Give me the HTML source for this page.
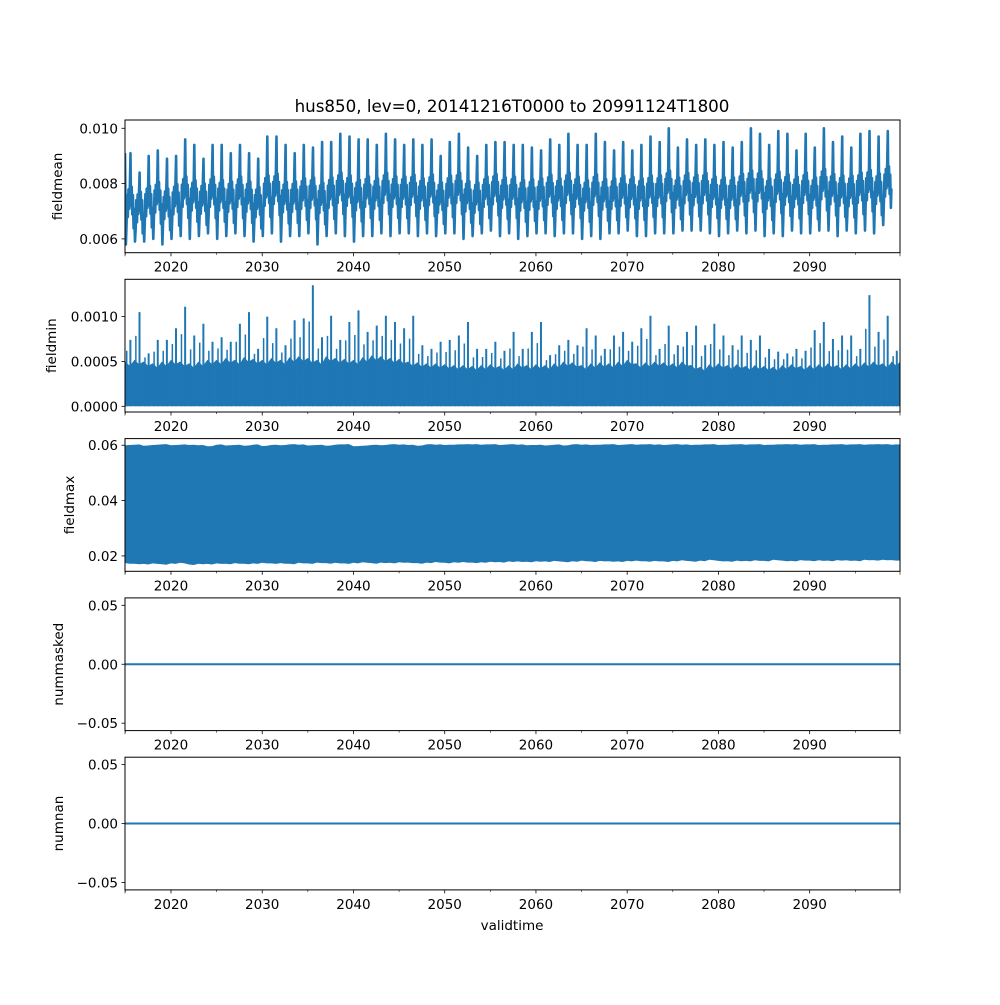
<!DOCTYPE html>
<html><head><meta charset="utf-8"><style>
body{margin:0;background:#fff}
svg text{font-family:"DejaVu Sans","Liberation Sans",sans-serif;fill:#000}
</style></head><body>
<svg id="chart" xmlns="http://www.w3.org/2000/svg" width="1000" height="1000" viewBox="0 0 1000 1000">
<rect width="1000" height="1000" fill="#fff"/>
<text x="512" y="112" font-size="16.7" text-anchor="middle">hus850, lev=0, 20141216T0000 to 20991124T1800</text>
<text x="512" y="930" font-size="13.5" text-anchor="middle">validtime</text>
<g id="plots"></g>
</svg>
<script>
const years = [];
for (let y = 2015; y <= 2099; y++) years.push(y);
const xTickLabels = ["2020","2030","2040","2050","2060","2070","2080","2090"];
const xTickValues = [2020,2030,2040,2050,2060,2070,2080,2090];
const xMinorValues = [2015,2025,2035,2045,2055,2065,2075,2085,2095];

const meanPeaks = [0.0091,0.0084,0.0090,0.0092,0.0089,0.0090,0.0096,0.0094,0.0089,0.0094,0.0094,0.0091,0.0094,0.0091,0.0089,0.0097,0.0097,0.0094,0.0091,0.0094,0.0093,0.0095,0.0095,0.0098,0.0097,0.0096,0.0096,0.0094,0.0098,0.0096,0.0094,0.0096,0.0094,0.0096,0.0090,0.0095,0.0098,0.0093,0.0090,0.0094,0.0095,0.0095,0.0094,
0.0094,0.0093,0.0092,0.0096,0.0094,0.0098,0.0094,0.0094,0.0098,0.0095,0.0092,0.0095,0.0092,0.0094,0.0097,0.0095,0.0100,0.0093,0.0096,0.0094,0.0096,0.0094,0.0095,0.0093,0.0095,0.0100,0.0098,0.0094,0.0099,0.0098,0.0092,0.0098,0.0093,0.0100,0.0095,0.0097,0.0093,0.0098,0.0099,0.0097,0.0099,0.0100];
const meanTroughs = [0.0058,0.0059,0.0059,0.0060,0.0058,0.0060,0.0061,0.0060,0.0061,0.0062,0.0060,0.0061,0.0062,0.0061,0.0059,0.0061,0.0062,0.0059,0.0061,0.0061,0.0062,0.0058,0.0061,0.0062,0.0061,0.0059,0.0061,0.0061,0.0062,0.0061,0.0062,0.0062,0.0061,0.0062,0.0061,0.0062,0.0062,0.0060,0.0061,0.0062,0.0063,0.0061,0.0062,
0.0060,0.0061,0.0062,0.0062,0.0061,0.0062,0.0062,0.0060,0.0061,0.0060,0.0062,0.0062,0.0063,0.0061,0.0061,0.0062,0.0062,0.0062,0.0063,0.0063,0.0063,0.0062,0.0061,0.0062,0.0063,0.0062,0.0063,0.0061,0.0062,0.0061,0.0063,0.0062,0.0062,0.0063,0.0063,0.0061,0.0063,0.0062,0.0063,0.0062,0.0065];

const minSpikes = [0.00074,0.00105,0.00059,0.00074,0.00074,0.00087,0.00111,0.00079,0.00092,0.00072,0.00077,0.00072,0.00092,0.00105,0.00064,0.00100,0.00087,0.00068,0.00096,0.00098,0.00135,0.00077,0.00101,0.00074,0.00094,0.00107,0.00083,0.00090,0.00101,0.00094,0.00087,0.00101,0.00068,0.00064,0.00072,0.00074,0.00079,0.00094,0.00064,0.00064,0.00072,0.00062,0.00083,
0.00064,0.00083,0.00094,0.00057,0.00068,0.00074,0.00068,0.00087,0.00079,0.00064,0.00079,0.00083,0.00072,0.00087,0.00101,0.00064,0.00090,0.00068,0.00083,0.00090,0.00068,0.00092,0.00079,0.00068,0.00079,0.00074,0.00079,0.00064,0.00061,0.00059,0.00064,0.00062,0.00085,0.00094,0.00075,0.00079,0.00079,0.00064,0.00124,0.00083,0.00101,0.00062];
const minBase = [0.00050,0.00052,0.00050,0.00048,0.00050,0.00052,0.00050,0.00048,0.00050,0.00052,0.00052,0.00054,0.00052,0.00055,0.00053,0.00052,0.00054,0.00052,0.00055,0.00056,0.00054,0.00052,0.00056,0.00054,0.00053,0.00052,0.00055,0.00057,0.00056,0.00054,0.00053,0.00050,0.00049,0.00048,0.00048,0.00047,0.00046,0.00046,0.00045,0.00046,0.00047,0.00045,0.00046,
0.00048,0.00046,0.00047,0.00046,0.00048,0.00050,0.00049,0.00046,0.00048,0.00049,0.00048,0.00050,0.00052,0.00048,0.00049,0.00050,0.00049,0.00048,0.00050,0.00046,0.00044,0.00047,0.00048,0.00046,0.00047,0.00045,0.00046,0.00045,0.00044,0.00046,0.00047,0.00045,0.00046,0.00047,0.00048,0.00046,0.00047,0.00048,0.00049,0.00050,0.00048,0.00050];

const maxUpper = [0.0600,0.0602,0.0598,0.0601,0.0603,0.0600,0.0602,0.0601,0.0600,0.0596,0.0602,0.0599,0.0601,0.0598,0.0602,0.0597,0.0601,0.0600,0.0603,0.0602,0.0599,0.0601,0.0598,0.0602,0.0603,0.0596,0.0598,0.0601,0.0600,0.0603,0.0602,0.0601,0.0598,0.0603,0.0602,0.0601,0.0602,0.0603,0.0603,0.0602,0.0603,0.0601,0.0603,
0.0602,0.0600,0.0601,0.0599,0.0602,0.0599,0.0603,0.0602,0.0601,0.0602,0.0603,0.0601,0.0603,0.0602,0.0603,0.0602,0.0601,0.0603,0.0602,0.0601,0.0602,0.0603,0.0601,0.0602,0.0603,0.0602,0.0603,0.0601,0.0602,0.0603,0.0603,0.0602,0.0603,0.0601,0.0602,0.0603,0.0602,0.0603,0.0602,0.0603,0.0603,0.0602];
const maxLower = [0.0174,0.0172,0.0171,0.0173,0.0170,0.0173,0.0175,0.0169,0.0172,0.0171,0.0173,0.0172,0.0174,0.0172,0.0173,0.0175,0.0173,0.0174,0.0172,0.0175,0.0173,0.0176,0.0174,0.0175,0.0173,0.0175,0.0177,0.0174,0.0176,0.0175,0.0177,0.0176,0.0174,0.0176,0.0178,0.0175,0.0177,0.0178,0.0176,0.0177,0.0179,0.0178,0.0180,
0.0180,0.0179,0.0181,0.0180,0.0182,0.0179,0.0181,0.0183,0.0180,0.0182,0.0181,0.0180,0.0182,0.0183,0.0181,0.0182,0.0180,0.0182,0.0184,0.0181,0.0183,0.0186,0.0182,0.0181,0.0183,0.0182,0.0184,0.0182,0.0186,0.0183,0.0182,0.0185,0.0183,0.0184,0.0183,0.0185,0.0184,0.0183,0.0186,0.0185,0.0186,0.0185];

const maskedValues = [0,0];
const nanValues = [0,0];

const panels = [
 {name:"fieldmean", ymin:0.0055, ymax:0.0103, ticks:[0.006,0.008,0.010], labels:["0.006","0.008","0.010"], lx:62},
 {name:"fieldmin", ymin:-0.0000636, ymax:0.001416, ticks:[0,0.0005,0.001], labels:["0.0000","0.0005","0.0010"], lx:56},
 {name:"fieldmax", ymin:0.01444, ymax:0.0624, ticks:[0.02,0.04,0.06], labels:["0.02","0.04","0.06"], lx:74},
 {name:"nummasked", ymin:-0.0563, ymax:0.0563, ticks:[-0.05,0,0.05], labels:["\u22120.05","0.00","0.05"], lx:63},
 {name:"numnan", ymin:-0.0563, ymax:0.0563, ticks:[-0.05,0,0.05], labels:["\u22120.05","0.00","0.05"], lx:63}
];
const L=125, R=900, XMIN=2014.96, XMAX=2099.9, H=132.7;
const NS="http://www.w3.org/2000/svg";
const root=document.getElementById('plots');
function mk(tag, attrs, parent){const e=document.createElementNS(NS,tag);for(const k in attrs)e.setAttribute(k,attrs[k]);(parent||root).appendChild(e);return e;}
function xs(t){return L+(t-XMIN)/(XMAX-XMIN)*(R-L);}
const C="#1f77b4";

panels.forEach((p,i)=>{
  const top=120+159.3*i, bot=top+H;
  const ys=v=>bot-(v-p.ymin)/(p.ymax-p.ymin)*H;
  const g=mk('g',{});
  
  
  const cp=mk('clipPath',{id:'cp'+i},g);
  mk('rect',{x:L,y:top,width:R-L,height:H},cp);
  const dg=mk('g',{'clip-path':'url(#cp'+i+')'},g);
  
  
  if(i===0){
    let pts=[[XMIN,meanPeaks[0]]];
    years.forEach((y,k)=>{
      const pk=meanPeaks[k], tr=meanTroughs[k];
      const mid=tr+0.36*(pk-tr);
      pts.push([y+0.06,tr],[y+0.13,mid-0.0004],[y+0.2,mid+0.0006],[y+0.27,mid-0.0002],[y+0.34,mid+0.0008],[y+0.42,mid+0.0001],[y+0.5,mid+0.0010],[y+0.56,pk],[y+0.62,mid+0.0002],[y+0.69,mid+0.0009],[y+0.76,mid-0.0001],[y+0.83,mid+0.0006],[y+0.9,mid-0.0006],[y+0.96,mid+0.0001]);
    });
    pts.push([XMAX+0.2,meanPeaks[meanPeaks.length-1]-0.0016]);
    const d=pts.map((q,j)=>(j?'L':'M')+xs(q[0]).toFixed(1)+' '+ys(q[1]).toFixed(1)).join(' ');
    const path=mk('path',{d:d,fill:'none',stroke:C,'stroke-width':2.6,'stroke-linejoin':'round'},dg);
    
    
  } else if(i===1){
    let d='M'+xs(XMIN)+' '+ys(0);
    years.forEach((y,k)=>{d+=' L'+xs(y).toFixed(1)+' '+ys(minBase[k]).toFixed(1)+' L'+xs(y+0.5).toFixed(1)+' '+ys(minBase[k]*0.9).toFixed(1);});
    d+=' L'+xs(XMAX)+' '+ys(minBase[minBase.length-1])+' L'+xs(XMAX)+' '+ys(0)+' Z';
    const area=mk('path',{d:d,fill:C},dg);
    
    
    years.forEach((y,k)=>{
      const sp=mk('line',{x1:xs(y+0.55),x2:xs(y+0.55),y1:ys(0),y2:ys(minSpikes[k]),stroke:C,'stroke-width':2},dg);
      
      
      const sp2=mk('line',{x1:xs(y+0.15),x2:xs(y+0.15),y1:ys(0),y2:ys((minSpikes[k]+minBase[k])/2),stroke:C,'stroke-width':1.5},dg);
      
      
    });
  } else if(i===2){
    let up='', lo='';
    years.forEach((y,k)=>{
      up+=' L'+xs(y).toFixed(1)+' '+ys(maxUpper[k]).toFixed(1)+' L'+xs(y+0.5).toFixed(1)+' '+ys(maxUpper[k]+0.0001).toFixed(1);
    });
    for(let k=years.length-1;k>=0;k--){
      lo+=' L'+xs(years[k]+0.5).toFixed(1)+' '+ys(maxLower[k]-0.0002).toFixed(1)+' L'+xs(years[k]).toFixed(1)+' '+ys(maxLower[k]).toFixed(1);
    }
    const d='M'+xs(XMIN)+' '+ys(maxUpper[0])+up+' L'+xs(XMAX+1)+' '+ys(maxUpper[maxUpper.length-1])+' L'+xs(XMAX+1)+' '+ys(maxLower[maxLower.length-1])+lo+' L'+xs(XMIN)+' '+ys(maxLower[0])+' Z';
    const area=mk('path',{d:d,fill:C},dg);
    
    
  } else {
    const vals=i===3?maskedValues:nanValues;
    const ln=mk('line',{x1:xs(XMIN),x2:xs(XMAX),y1:ys(vals[0]),y2:ys(vals[1]),stroke:C,'stroke-width':2},dg);
    
    
  }
  const fr=mk('rect',{x:L,y:top,width:R-L,height:H,fill:'none',stroke:'#000','stroke-width':1},g);
  
  
  p.ticks.forEach((t,j)=>{
    const yy=ys(t);
    mk('line',{x1:L-3.5,x2:L,y1:yy,y2:yy,stroke:'#000','stroke-width':0.8},g);
    const tx=mk('text',{x:L-7,y:yy+5,'font-size':13.5,'text-anchor':'end'},g);
    tx.textContent=p.labels[j];
    
    
  });
  xTickValues.forEach((t,j)=>{
    const xx=xs(t);
    mk('line',{x1:xx,x2:xx,y1:bot,y2:bot+3.5,stroke:'#000','stroke-width':0.8},g);
    const tx=mk('text',{x:xx,y:bot+19,'font-size':13.5,'text-anchor':'middle'},g);
    tx.textContent=xTickLabels[j];
    
    
  });
  xMinorValues.forEach(t=>{const xx=xs(t);mk('line',{x1:xx,x2:xx,y1:bot,y2:bot+2,stroke:'#000','stroke-width':0.6},g);});
  mk('line',{x1:L,x2:L,y1:bot,y2:bot+3.5,stroke:'#000','stroke-width':0.6},g);
  mk('line',{x1:R,x2:R,y1:bot,y2:bot+3.5,stroke:'#000','stroke-width':0.6},g);
  const yl=mk('text',{x:p.lx,y:top+H/2,'font-size':13.5,'text-anchor':'middle',transform:'rotate(-90 '+p.lx+' '+(top+H/2)+')'},g);
  yl.textContent=p.name;
  
  
});
</script>
</body></html>
